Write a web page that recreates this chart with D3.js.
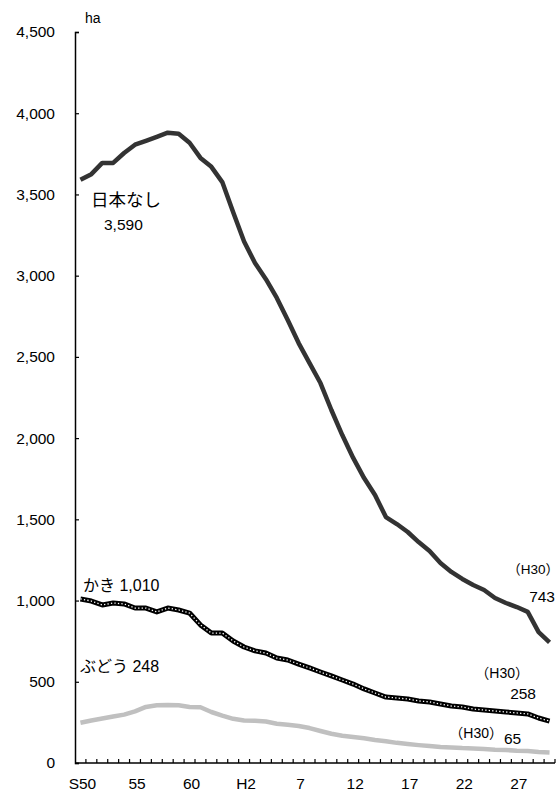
<!DOCTYPE html>
<html>
<head>
<meta charset="utf-8">
<script src="https://cdn.jsdelivr.net/npm/d3@7"></script>
<style>
body { margin: 0; background: #fff; }
svg text { font-family: "Liberation Sans", Arial, "Noto Sans CJK JP", sans-serif; fill: #000; }
</style>
</head>
<body>
<div id="chart"></div>
<script>
// years S50 (1975) .. H30 (2018)
var years = ["S50","51","52","53","54","55","56","57","58","59","60","61","62","63",
  "H1","H2","3","4","5","6","7","8","9","10","11","12","13","14","15","16","17","18","19","20",
  "21","22","23","24","25","26","27","28","29","30"];
var tickLabels = ["S50","55","60","H2","7","12","17","22","27"];
var yTicks = [0,500,1000,1500,2000,2500,3000,3500,4000,4500];

// 日本なし
var nashi = [3590,3625,3694,3694,3755,3806,3830,3855,3880,3874,3818,3725,3670,3576,3390,3210,
  3078,2978,2863,2727,2585,2462,2339,2173,2019,1878,1754,1650,1514,1471,1422,1360,1305,1231,
  1176,1133,1096,1065,1016,985,960,930,806,743];
// かき
var kaki = [1010,997,973,985,979,954,954,930,954,942,923,850,800,800,751,714,690,677,646,
  634,609,585,560,536,511,486,456,431,406,400,394,382,376,363,351,345,332,326,320,314,308,302,277,258];
// ぶどう
var budou = [248,262,274,286,298,318,345,355,357,355,345,343,314,292,272,262,260,255,242,
  235,228,215,197,180,168,160,152,142,134,124,117,110,104,98,96,92,90,86,82,80,76,74,68,65];

var W = 560, H = 791;
var mLeft = 75, mRight = 555, mTop = 32, mBottom = 763;

var svg = d3.select("#chart").append("svg")
    .attr("width", W)
    .attr("height", H);

var x = d3.scaleBand().domain(years).range([mLeft, mRight]);
var y = d3.scaleLinear().domain([0, 4500]).range([mBottom, mTop]);
var cx = function(d, i) { return x(years[i]) + x.bandwidth() / 2; };

// y axis
var yAxis = d3.axisLeft(y).tickValues(yTicks).tickSize(-4).tickPadding(20)
    .tickFormat(d3.format(","));
svg.append("g")
    .attr("transform", "translate(" + mLeft + ",0)")
    .call(yAxis)
    .call(function(g) {
      g.select(".domain").attr("stroke", "#000").attr("stroke-width", 1.5);
      g.selectAll(".tick line").attr("stroke", "#000").attr("stroke-width", 1.2);
      g.selectAll(".tick text").style("font-size", "15.5px").attr("fill", "#000");
    });

// x axis : ticks between categories pointing up
var xg = svg.append("g").attr("transform", "translate(0," + mBottom + ")");
xg.append("line").attr("x1", mLeft).attr("x2", mRight).attr("stroke", "#000").attr("stroke-width", 1.5);
xg.selectAll(".xt")
    .data(years)
  .enter().append("line")
    .attr("class", "xt")
    .attr("x1", function(d) { return x(d) + x.bandwidth(); })
    .attr("x2", function(d) { return x(d) + x.bandwidth(); })
    .attr("y1", 0).attr("y2", -4)
    .attr("stroke", "#000").attr("stroke-width", 1.2);
xg.selectAll(".xl")
    .data(tickLabels)
  .enter().append("text")
    .attr("x", function(d) { return x(d) + x.bandwidth() / 2 + 2; })
    .attr("y", 26)
    .attr("text-anchor", "middle")
    .style("font-size", "15.5px")
    .text(function(d) { return d; });

svg.append("text").attr("x", 85).attr("y", 23).style("font-size", "14px").text("ha");

var line = d3.line()
    .x(cx)
    .y(function(d) { return y(d); })
    .curve(d3.curveLinear);

svg.append("path").datum(budou).attr("d", line)
    .attr("fill", "none").attr("stroke", "#c0c0c0").attr("stroke-width", 4.5)
    .attr("stroke-linejoin", "round");

svg.append("path").datum(kaki).attr("d", line)
    .attr("fill", "none").attr("stroke", "#000").attr("stroke-width", 5)
    .attr("stroke-linejoin", "round");
svg.append("path").datum(kaki).attr("d", line)
    .attr("fill", "none").attr("stroke", "#fff").attr("stroke-width", 1.3)
    .attr("stroke-dasharray", "1.3 2.2");

svg.append("path").datum(nashi).attr("d", line)
    .attr("fill", "none").attr("stroke", "#333").attr("stroke-width", 4.5)
    .attr("stroke-linejoin", "round");

// labels
var labels = [
  {t: "日本なし", x: 91, y: 206, s: 17.5, a: "start"},
  {t: "3,590", x: 104, y: 230, s: 15.5, a: "start"},
  {t: "かき 1,010", x: 83, y: 591, s: 16, a: "start"},
  {t: "ぶどう 248", x: 80, y: 672, s: 16, a: "start"},
  {t: "（H30）", x: 559, y: 574, s: 13.5, a: "end"},
  {t: "743", x: 555, y: 602, s: 15.5, a: "end"},
  {t: "（H30）", x: 529, y: 678, s: 14, a: "end"},
  {t: "258", x: 536, y: 699, s: 15.5, a: "end"},
  {t: "（H30）", x: 503, y: 738, s: 14, a: "end"},
  {t: "65", x: 504, y: 744, s: 15.5, a: "start"}
];
svg.selectAll(".lab")
    .data(labels)
  .enter().append("text")
    .attr("class", "lab")
    .attr("x", function(d) { return d.x; })
    .attr("y", function(d) { return d.y; })
    .attr("text-anchor", function(d) { return d.a; })
    .style("font-size", function(d) { return d.s + "px"; })
    .text(function(d) { return d.t; });
</script>
</body>
</html>
